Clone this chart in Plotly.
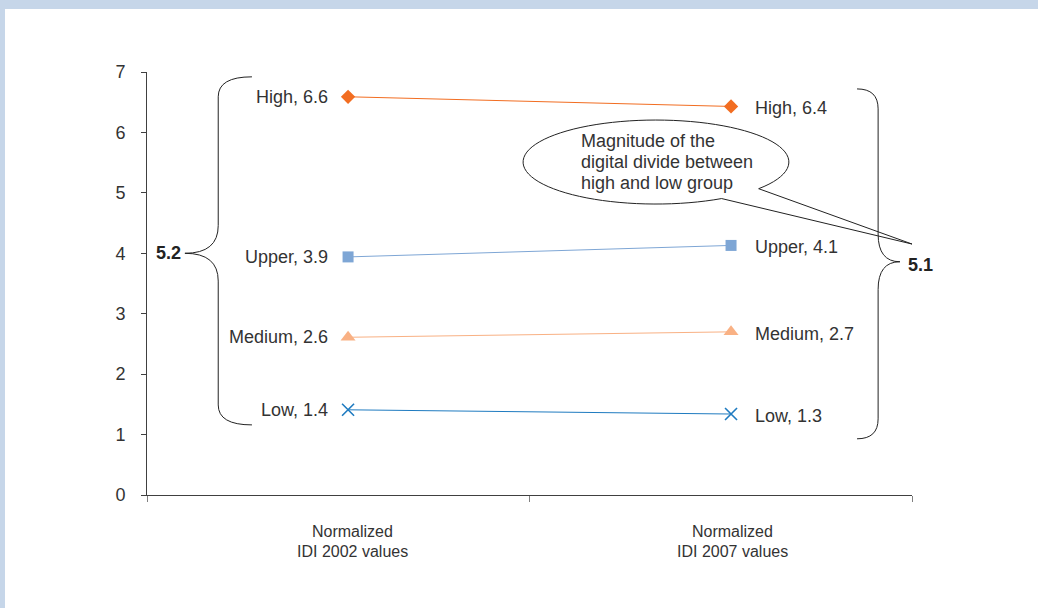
import numpy as np
import plotly.graph_objects as go

# data
categories = [["Normalized", "IDI 2002 values"], ["Normalized", "IDI 2007 values"]]
groups = ["High", "Upper", "Medium", "Low"]
idi_2002 = [6.59, 3.94, 2.61, 1.41]
idi_2007 = [6.43, 4.13, 2.70, 1.34]
label_2002 = [6.6, 3.9, 2.6, 1.4]
label_2007 = [6.4, 4.1, 2.7, 1.3]
divide_2002 = 5.2
divide_2007 = 5.1
callout_lines = ["Magnitude of the", "digital divide between", "high and low group"]

colors = ["#f26d21", "#7ea6d5", "#f9b184", "#1f7bc0"]
symbols = ["diamond", "square", "triangle-up", "x-thin"]
sizes = [11, 11, 13, 12]

FONT = "Arial, Liberation Sans, sans-serif"
TXT = "#333333"
FS = 18
X_RANGE = [-0.525, 1.4725]
X_BOUNDS = [-0.525, 0.474, 1.4725]
PX_Y = 7 / 423  # data units per pixel on the y axis

fig = go.Figure()

for i, g in enumerate(groups):
    marker = dict(color=colors[i], size=sizes[i], symbol=symbols[i])
    if symbols[i] == "x-thin":
        marker["line"] = dict(color=colors[i], width=1.6)
    fig.add_trace(go.Scatter(
        x=[0, 1],
        y=[idi_2002[i], idi_2007[i]],
        mode="lines+markers",
        name=g,
        line=dict(color=colors[i], width=1),
        marker=marker,
        showlegend=False,
        hoverinfo="skip",
    ))
    fig.add_annotation(x=0, y=idi_2002[i], text=f"{g}, {label_2002[i]:.1f}",
                       xanchor="right", xshift=-18, showarrow=False,
                       font=dict(size=FS, color=TXT, family=FONT))
    fig.add_annotation(x=1, y=idi_2007[i], text=f"{g}, {label_2007[i]:.1f}",
                       xanchor="left", xshift=22, yshift=-2, showarrow=False,
                       font=dict(size=FS, color=TXT, family=FONT))

# category labels under the axis
for i, lines in enumerate(categories):
    for j, line in enumerate(lines):
        fig.add_annotation(x=i, y=0, yref="paper", text=line, showarrow=False,
                           xanchor="center", yanchor="middle",
                           xshift=4 if i == 0 else 1, yshift=-36 - 20 * j,
                           font=dict(size=16, color=TXT, family=FONT))


def brace_path(xe, xs, xp, ytop, ymid, ybot, r_end=0.33, r_mid=0.46):
    return (f"M {xe},{ytop} Q {xs},{ytop} {xs},{ytop - r_end} "
            f"L {xs},{ymid + r_mid} Q {xs},{ymid} {xp},{ymid} "
            f"Q {xs},{ymid} {xs},{ymid - r_mid} "
            f"L {xs},{ybot + r_end} Q {xs},{ybot} {xe},{ybot}")


# braces showing the gap between high and low group
fig.add_shape(type="path", path=brace_path(-0.251, -0.339, -0.426, 6.92, 4.0, 1.16),
              line=dict(color="#222222", width=1))
fig.add_shape(type="path", path=brace_path(1.329, 1.384, 1.441, 6.72, 3.86, 0.93),
              line=dict(color="#222222", width=1))
fig.add_annotation(x=-0.47, y=4.0, text=f"<b>{divide_2002}</b>", showarrow=False,
                   xanchor="center", font=dict(size=FS, color="#222222", family=FONT))
fig.add_annotation(x=1.0105, xref="paper", y=3.81, text=f"<b>{divide_2007}</b>",
                   showarrow=False, xanchor="center",
                   font=dict(size=FS, color="#222222", family=FONT))

# speech-bubble callout
cx, cy, rx, ry = 0.804, 5.51, 0.347, 0.695
t = np.radians(np.linspace(-39.4, 299.6, 90))
pts = [(cx + rx * np.cos(a), cy + ry * np.sin(a)) for a in t]
pts.append((1.4726, 4.153))
path = "M " + " L ".join(f"{px:.4f},{py:.4f}" for px, py in pts) + " Z"
fig.add_shape(type="path", path=path, line=dict(color="#222222", width=1),
              fillcolor="white", layer="below")
for j, line in enumerate(callout_lines):
    fig.add_annotation(x=0.603, y=cy + (1 - j) * 21 * PX_Y, text=line,
                       xanchor="left", showarrow=False,
                       font=dict(size=FS, color=TXT, family=FONT))

# light blue frame strips
pw, ph = 765, 423
fig.add_shape(type="rect", xref="paper", yref="paper",
              x0=-147 / pw, x1=-142 / pw, y0=-113 / ph, y1=1 + 72 / ph,
              fillcolor="#c6d6e9", line_width=0)
fig.add_shape(type="rect", xref="paper", yref="paper",
              x0=-147 / pw, x1=891 / pw, y0=1 + 63 / ph, y1=1 + 72 / ph,
              fillcolor="#c6d6e9", line_width=0)

fig.update_layout(
    width=1038, height=608,
    margin=dict(l=147, r=126, t=72, b=113),
    paper_bgcolor="white", plot_bgcolor="white",
    font=dict(family=FONT, size=FS, color=TXT),
    xaxis=dict(range=X_RANGE, tickvals=X_BOUNDS, showticklabels=False,
               ticks="outside", ticklen=6, tickcolor="#808080",
               showline=True, linecolor="#404040", linewidth=1, showgrid=False,
               zeroline=False),
    yaxis=dict(range=[0, 7], dtick=1, ticks="outside", ticklen=5, tickcolor="#404040",
               showline=True, linecolor="#404040", linewidth=1, showgrid=False,
               zeroline=False, ticklabelstandoff=12,
               tickfont=dict(size=FS, color=TXT)),
)

fig.write_html("out.html", config={"displayModeBar": False},
               post_script="document.body.style.margin = '0px';")
